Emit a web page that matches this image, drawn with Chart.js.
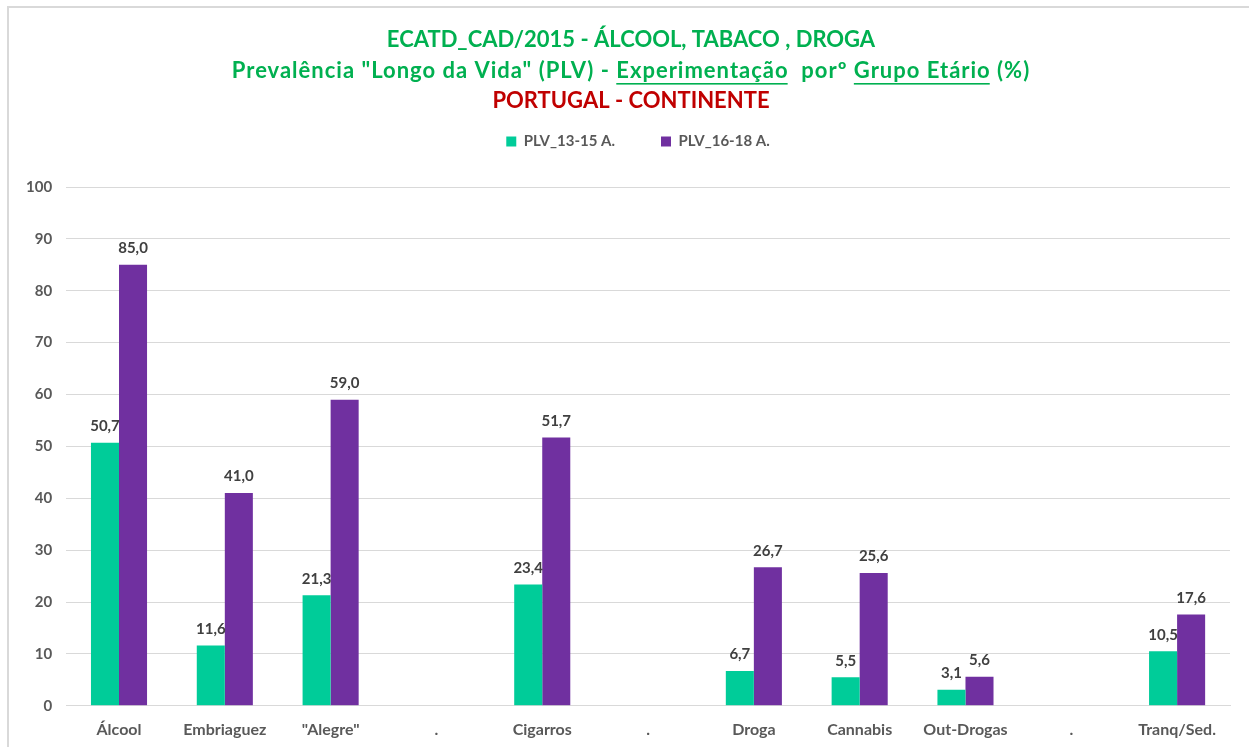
<!DOCTYPE html>
<html lang="pt">
<head>
  <meta charset="UTF-8" />
  <title>ECATD_CAD/2015 - PLV por Grupo Etário</title>
  <script src="https://cdn.jsdelivr.net/npm/chart.js"></script>
  <style>
    html, body { margin: 0; padding: 0; background: #fff; }
    #wrap { width: 1249px; height: 747px; position: relative; }
  </style>
</head>
<body>
  <div id="wrap"><canvas id="plvChart"></canvas></div>

  <script>
    const categorias = ['Álcool', 'Embriaguez', '"Alegre"', '.', 'Cigarros', '.', 'Droga', 'Cannabis', 'Out-Drogas', '.', 'Tranq/Sed.'];
    const plv1315 = [50.7, 11.6, 21.3, null, 23.4, null, 6.7, 5.5, 3.1, null, 10.5];
    const plv1618 = [85.0, 41.0, 59.0, null, 51.7, null, 26.7, 25.6, 5.6, null, 17.6];
    const yTicks = [0, 10, 20, 30, 40, 50, 60, 70, 80, 90, 100];

    const FONT = 'Lato, "Open Sans", sans-serif';
    const GREEN_T = '#00B050';
    const RED_T = '#C00000';

    // titulo com partes sublinhadas
    const titlePlugin = {
      id: 'titulos',
      beforeUpdate(chart) {
        // espaco extra por baixo da legenda e pequeno desvio para a direita
        const lg = chart.legend;
        if (lg && !lg._patched) {
          const origFit = lg.fit;
          lg.fit = function () { origFit.call(this); this.height += 28; };
          const origDraw = lg.draw;
          lg.draw = function () {
            this.ctx.save();
            this.ctx.translate(17, 0);
            origDraw.call(this);
            this.ctx.restore();
          };
          lg._patched = true;
        }
      },
      afterDraw(chart) {
        const ctx = chart.ctx;
        const cx = 631;
        ctx.save();
        ctx.textBaseline = 'middle';
        ctx.font = 'bold 22px ' + FONT;

        ctx.fillStyle = GREEN_T;
        ctx.textAlign = 'center';
        ctx.fillText('ECATD_CAD/2015 - ÁLCOOL, TABACO , DROGA', cx, 40);

        const parts = [
          ['Prevalência "Longo da Vida" (PLV) - ', false],
          ['Experimentação', true],
          ['  porº ', false],
          ['Grupo Etário', true],
          [' (%)', false]
        ];
        ctx.letterSpacing = '1px';
        let total = 0;
        parts.forEach(p => total += ctx.measureText(p[0]).width);
        let x = cx - total / 2;
        ctx.textAlign = 'left';
        parts.forEach(p => {
          const w = ctx.measureText(p[0]).width;
          ctx.fillText(p[0], x, 71);
          if (p[1]) {
            ctx.fillRect(x, 83, w - 1, 1.6);
          }
          x += w;
        });
        ctx.letterSpacing = '0px';

        ctx.fillStyle = RED_T;
        ctx.textAlign = 'center';
        ctx.fillText('PORTUGAL - CONTINENTE', cx, 101);

        // moldura
        ctx.strokeStyle = '#d9d9d9';
        ctx.lineWidth = 2;
        ctx.beginPath();
        ctx.moveTo(8, 747);
        ctx.lineTo(8, 7);
        ctx.lineTo(1249, 7);
        ctx.stroke();
        ctx.restore();
      }
    };

    const rotulosPlugin = {
      id: 'rotulos',
      afterDatasetsDraw(chart) {
        const ctx = chart.ctx;
        ctx.save();
        ctx.font = 'bold 15px ' + FONT;
        ctx.fillStyle = '#404040';
        ctx.textAlign = 'center';
        ctx.textBaseline = 'bottom';
        chart.data.datasets.forEach((ds, i) => {
          chart.getDatasetMeta(i).data.forEach((bar, j) => {
            const v = ds.data[j];
            if (v === null) return;
            ctx.fillText(v.toFixed(1).replace('.', ','), bar.x, bar.y - 9);
          });
        });
        ctx.restore();
      }
    };

    const ctx = document.getElementById('plvChart').getContext('2d');
    new Chart(ctx, {
      type: 'bar',
      data: {
        labels: categorias,
        datasets: [
          {
            label: 'PLV_13-15 A.',
            data: plv1315,
            backgroundColor: '#00CC99',
            categoryPercentage: 0.53,
            barPercentage: 1.0
          },
          {
            label: 'PLV_16-18 A.',
            data: plv1618,
            backgroundColor: '#7030A0',
            categoryPercentage: 0.53,
            barPercentage: 1.0
          }
        ]
      },
      options: {
        responsive: true,
        maintainAspectRatio: false,
        animation: false,
        layout: { padding: { top: 88, left: 12, right: 19, bottom: 2 } },
        plugins: {
          title: { display: false },
          tooltip: { enabled: false },
          legend: {
            position: 'top',
            labels: {
              boxWidth: 10,
              boxHeight: 10,
              padding: 46,
              color: '#595959',
              font: { family: FONT, size: 15, weight: 'bold' }
            }
          }
        },
        scales: {
          x: {
            grid: { display: false },
            border: { color: '#d9d9d9', width: 1 },
            ticks: {
              color: '#595959',
              padding: 6,
              font: { family: FONT, size: 16, weight: 'bold' }
            }
          },
          y: {
            min: 0,
            max: 100,
            afterBuildTicks(axis) { axis.ticks = yTicks.map(v => ({ value: v })); },
            border: { display: false },
            grid: { color: '#d9d9d9', drawTicks: false },
            ticks: {
              color: '#595959',
              padding: 14,
              font: { family: FONT, size: 15, weight: 'bold' }
            }
          }
        }
      },
      plugins: [titlePlugin, rotulosPlugin]
    });
  </script>
</body>
</html>
